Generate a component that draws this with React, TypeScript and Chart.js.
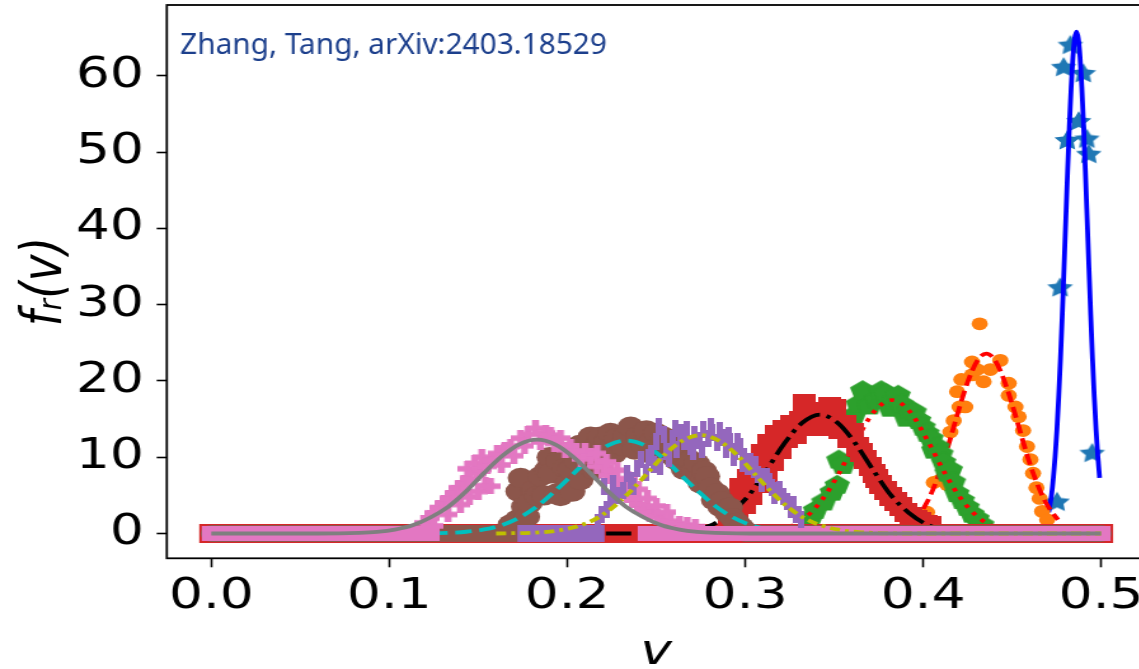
import React, { useEffect, useRef } from "react";
import { Chart, registerables } from "chart.js";

Chart.register(...registerables);

// ---------- data ----------
const X_TICKS = [0, 0.1, 0.2, 0.3, 0.4, 0.5];
const Y_TICKS = [0, 10, 20, 30, 40, 50, 60];
const NOTE = "Zhang, Tang, arXiv:2403.18529";

// blue stars [v, f]
const BLUE_PTS = [
  [0.4753, 4.2], [0.477, 32.3], [0.479, 61.2], [0.481, 51.6], [0.4828, 64.1],
  [0.4874, 54.1], [0.49, 60.4], [0.492, 51.8], [0.4931, 49.8], [0.495, 10.6],
];
const BLUE_FIT = [
  [0.4706, 2.8], [0.4722, 5.1], [0.4732, 7.3], [0.4742, 10.1], [0.4752, 13.6], [0.4762, 17.9],
  [0.4772, 22.9], [0.4782, 28.6], [0.4792, 34.8], [0.4802, 41.2], [0.4812, 47.5], [0.4822, 53.4],
  [0.4832, 58.5], [0.4842, 62.5], [0.4852, 64.9], [0.4862, 65.8], [0.4872, 64.9], [0.4882, 62.5],
  [0.4892, 58.5], [0.4902, 53.4], [0.4912, 47.5], [0.4922, 41.2], [0.4932, 34.8], [0.4942, 28.6],
  [0.4952, 22.9], [0.4962, 17.9], [0.4972, 13.6], [0.4982, 10.1], [0.4992, 7.3],
];

// orange circles
const ORANGE_PTS = [
  [0.4022, 2.8], [0.406, 6.7], [0.4097, 7.0], [0.4136, 6.4], [0.4153, 13.3], [0.4172, 14.8],
  [0.4191, 18.6], [0.4205, 16.6], [0.4215, 20.2], [0.4237, 16.6], [0.4275, 20.8], [0.4275, 22.5],
  [0.4303, 21.5], [0.4318, 27.5], [0.434, 19.9], [0.4378, 21.5], [0.4434, 22.7], [0.4481, 19.7],
  [0.4481, 18.1], [0.4519, 16.6], [0.4537, 15.3], [0.4562, 13.5], [0.4584, 11.4], [0.4603, 9.7],
  [0.4618, 7.9], [0.4637, 6.0], [0.4655, 4.6], [0.4669, 2.9], [0.4697, 1.8],
];
const ORANGE_FIT = [
  [0.4, 3.2], [0.4035, 4.7], [0.4075, 6.9], [0.4115, 9.5], [0.4155, 12.6], [0.4195, 15.8],
  [0.4235, 18.8], [0.4275, 21.3], [0.4315, 23.0], [0.4355, 23.6], [0.4395, 23.0], [0.4435, 21.3],
  [0.4475, 18.8], [0.4515, 15.8], [0.4555, 12.6], [0.4595, 9.5], [0.4635, 6.9], [0.4675, 4.7],
  [0.4715, 3.1], [0.4758, 1.8],
];

// green pentagons
const GREEN_PTS = [
  [0.3367, 2.0], [0.3395, 3.1], [0.3442, 4.2], [0.3489, 5.5], [0.3517, 6.4], [0.3526, 9.7],
  [0.355, 9.0], [0.361, 15.5], [0.3635, 17.0], [0.366, 18.8], [0.37, 16.8], [0.374, 17.6],
  [0.3765, 18.8], [0.379, 18.4], [0.3815, 16.5], [0.384, 17.5], [0.386, 18.2], [0.388, 17.0],
  [0.3905, 15.2], [0.3929, 16.2], [0.395, 16.0], [0.3975, 14.9], [0.4, 14.0], [0.4022, 13.2],
  [0.4045, 12.5], [0.406, 11.0], [0.4079, 11.4], [0.41, 10.5], [0.4115, 9.4], [0.4135, 8.0],
  [0.4153, 8.4], [0.417, 6.8], [0.419, 5.3], [0.422, 4.4], [0.4247, 3.5], [0.4275, 2.6],
  [0.4303, 2.0], [0.433, 1.2],
];
const GREEN_FIT = [
  [0, 0], [0.3, 0.0], [0.3225, 0.69], [0.3325, 1.86], [0.3425, 4.2], [0.3525, 7.8], [0.3625, 12.2],
  [0.3725, 16.0], [0.3825, 17.5], [0.3925, 16.0], [0.4025, 12.2], [0.4125, 7.8], [0.4225, 4.2],
  [0.4325, 1.86], [0.4425, 0.69], [0.47, 0], [0.5, 0],
];

// red squares
const RED_PTS = [
  [0.291, 1.5], [0.2935, 4.5], [0.2955, 2.5], [0.2975, 6.0], [0.2995, 3.8], [0.3015, 7.2],
  [0.3035, 5.0], [0.3055, 8.8], [0.3075, 6.5], [0.3095, 10.5], [0.3115, 8.0], [0.3135, 11.8],
  [0.3155, 9.5], [0.3175, 13.0], [0.3195, 11.0], [0.3215, 13.6], [0.3235, 12.5], [0.326, 14.3],
  [0.3285, 13.0], [0.331, 14.8], [0.333, 17.1], [0.335, 14.0], [0.3375, 15.2], [0.34, 14.5],
  [0.3425, 16.0], [0.345, 14.0], [0.3475, 16.6], [0.3505, 16.4], [0.353, 13.6], [0.356, 14.3],
  [0.3585, 12.5], [0.3605, 13.2], [0.363, 11.4], [0.3655, 10.6], [0.3676, 9.7], [0.37, 8.8],
  [0.3722, 7.9], [0.374, 7.2], [0.376, 6.4], [0.379, 5.6], [0.3816, 4.9], [0.3845, 4.2],
  [0.3872, 3.5], [0.39, 2.8], [0.3929, 2.2], [0.396, 1.8], [0.3985, 1.6], [0.4015, 1.2], [0.404, 1.0],
];
const RED_FIT = [
  [0, 0], [0.24, 0.0], [0.262, 0.17], [0.272, 0.49], [0.282, 1.2], [0.292, 2.7], [0.302, 5.0],
  [0.312, 8.3], [0.322, 11.8], [0.332, 14.5], [0.342, 15.6], [0.352, 14.5], [0.362, 11.8],
  [0.372, 8.3], [0.382, 5.0], [0.392, 2.7], [0.402, 1.2], [0.412, 0.49], [0.422, 0.17], [0.45, 0], [0.5, 0],
];
const RED_ZERO = [[0, 0.5]];

// purple bars
const PURPLE_PTS = [
  [0.217, 1.5], [0.2195, 2.5], [0.2206, 6.2], [0.2225, 3.1], [0.2243, 4.4], [0.226, 6.5], [0.228, 5.0],
  [0.2318, 5.7], [0.2337, 7.9], [0.2355, 7.0], [0.2374, 6.2], [0.239, 8.5], [0.2412, 9.7], [0.244, 8.0],
  [0.2455, 10.0], [0.247, 10.5], [0.2485, 9.0], [0.25, 12.0], [0.2515, 14.0], [0.2524, 8.8],
  [0.2545, 13.0], [0.256, 10.8], [0.2575, 9.8], [0.259, 12.5], [0.2605, 13.8], [0.2615, 11.0],
  [0.2637, 13.2], [0.266, 12.0], [0.2675, 13.6], [0.2693, 11.4], [0.2705, 10.8], [0.2715, 13.0],
  [0.274, 12.2], [0.2755, 11.0], [0.2767, 13.6], [0.279, 12.5], [0.2805, 14.0], [0.2815, 13.2],
  [0.2843, 11.9], [0.2855, 13.5], [0.287, 12.6], [0.2895, 11.0], [0.2905, 12.8], [0.2917, 12.1],
  [0.2935, 10.0], [0.2945, 10.8], [0.296, 12.0], [0.2973, 11.4], [0.2985, 9.2], [0.2992, 10.1],
  [0.3011, 8.8], [0.303, 9.5], [0.3048, 8.4], [0.3055, 9.0], [0.307, 7.8], [0.309, 6.6], [0.3105, 7.5],
  [0.3124, 7.5], [0.3135, 6.8], [0.3152, 6.0], [0.3165, 5.0], [0.318, 5.7], [0.3195, 5.8],
  [0.3217, 4.9], [0.3236, 4.2], [0.3255, 3.1], [0.327, 3.8], [0.3285, 2.5], [0.33, 2.5], [0.3311, 1.8],
];
const PURPLE_FIT = [
  [0.16, 0.0], [0.185, 0.16], [0.195, 0.4], [0.205, 0.9], [0.215, 1.8], [0.225, 3.3], [0.235, 5.4],
  [0.245, 7.9], [0.255, 10.4], [0.265, 12.2], [0.275, 12.9], [0.285, 12.2], [0.295, 10.4],
  [0.305, 7.9], [0.315, 5.4], [0.325, 3.3], [0.335, 1.8], [0.345, 0.9], [0.355, 0.4], [0.365, 0.16],
  [0.39, 0], [0.5, 0],
];
const PURPLE_ZERO = [[0.172, 0.221]];

// brown circles
const BROWN_PTS = [
  [0.1682, 1.2], [0.172, 1.8], [0.1725, 5.5], [0.1738, 7.3], [0.1756, 3.5], [0.1775, 2.2],
  [0.179, 4.0], [0.1812, 5.7], [0.1831, 4.9], [0.185, 7.5], [0.187, 5.0], [0.1888, 8.4],
  [0.19, 10.0], [0.1906, 7.9], [0.1944, 5.3], [0.195, 9.5], [0.1962, 4.9], [0.199, 8.6], [0.2, 6.5],
  [0.2018, 8.4], [0.203, 5.5], [0.205, 9.6], [0.207, 11.6], [0.2075, 7.0], [0.21, 10.8], [0.212, 9.5],
  [0.2131, 12.7], [0.215, 8.4], [0.2168, 11.4], [0.2175, 10.0], [0.2187, 12.7], [0.222, 12.0],
  [0.2243, 13.2], [0.2265, 10.5], [0.228, 12.5], [0.231, 11.5], [0.233, 12.8], [0.2356, 14.0],
  [0.238, 11.0], [0.24, 12.8], [0.243, 11.6], [0.2445, 13.5], [0.2468, 11.9], [0.249, 10.2],
  [0.25, 13.2], [0.2525, 11.5], [0.2541, 12.7], [0.2562, 10.5], [0.258, 12.0], [0.26, 11.2],
  [0.2615, 9.6], [0.2637, 11.0], [0.2655, 8.4], [0.267, 10.0], [0.269, 9.6], [0.2705, 8.0],
  [0.273, 9.2], [0.2749, 6.6], [0.277, 8.2], [0.2787, 7.5], [0.2805, 6.0], [0.2824, 4.4],
  [0.2843, 5.3], [0.286, 3.5], [0.287, 4.2], [0.2899, 2.7], [0.2915, 3.4], [0.293, 2.0],
  [0.2955, 1.4], [0.298, 0.8],
];
const BROWN_FIT = [
  [0.11, 0.0], [0.1333, 0.09], [0.1433, 0.23], [0.1533, 0.53], [0.1633, 1.1], [0.1733, 2.1],
  [0.1833, 3.6], [0.1933, 5.6], [0.2033, 7.8], [0.2133, 10.0], [0.2233, 11.6], [0.2333, 12.2],
  [0.2433, 11.6], [0.2533, 10.0], [0.2633, 7.8], [0.2733, 5.6], [0.2833, 3.6], [0.2933, 2.1],
  [0.3033, 1.1], [0.3133, 0.53], [0.3233, 0.23], [0.3333, 0.09], [0.36, 0], [0.5, 0],
];
const BROWN_ZERO = [[0, 0.172], [0.3, 0.5]];

// pink pluses
const PINK_PTS = [
  [0.1194, 1.4], [0.123, 2.0], [0.125, 1.0], [0.1251, 2.7], [0.128, 3.4], [0.1307, 4.0], [0.133, 2.5],
  [0.1335, 4.6], [0.1363, 5.3], [0.139, 6.0], [0.14, 3.8], [0.1419, 6.6], [0.144, 8.5], [0.145, 4.8],
  [0.145, 7.2], [0.148, 9.2], [0.1494, 7.9], [0.15, 5.5], [0.152, 10.0], [0.152, 8.4], [0.154, 6.3],
  [0.155, 8.8], [0.1569, 6.2], [0.158, 9.6], [0.1607, 10.5], [0.163, 9.0], [0.165, 11.0],
  [0.1682, 11.4], [0.17, 10.2], [0.1738, 12.5], [0.176, 11.5], [0.178, 13.0], [0.1822, 13.8],
  [0.185, 12.0], [0.188, 13.2], [0.1906, 12.9], [0.193, 11.8], [0.1962, 12.5], [0.199, 11.0],
  [0.2018, 11.4], [0.205, 10.8], [0.208, 9.8], [0.21, 10.8], [0.2131, 10.1], [0.2168, 8.8],
  [0.2168, 10.5], [0.2206, 8.8], [0.222, 9.4], [0.223, 7.6], [0.2262, 7.0], [0.228, 8.3], [0.229, 6.2],
  [0.2318, 5.7], [0.234, 7.2], [0.2345, 5.0], [0.2374, 4.4], [0.24, 5.8], [0.24, 3.8], [0.243, 3.1],
  [0.245, 4.6], [0.2465, 2.6], [0.25, 3.6], [0.2506, 2.2], [0.254, 1.8], [0.256, 2.8], [0.258, 1.6],
  [0.263, 1.3], [0.2674, 1.1], [0.272, 0.9],
];
const PINK_FIT = [
  [0, 0], [0.06, 0.0], [0.0831, 0.09], [0.0931, 0.22], [0.1031, 0.51], [0.1131, 1.07], [0.1231, 2.1],
  [0.1331, 3.5], [0.1431, 5.5], [0.1531, 7.9], [0.1631, 10.1], [0.1731, 11.7], [0.1831, 12.3],
  [0.1931, 11.7], [0.2031, 10.1], [0.2131, 7.9], [0.2231, 5.5], [0.2331, 3.5], [0.2431, 2.1],
  [0.2531, 1.07], [0.2631, 0.51], [0.2731, 0.22], [0.2831, 0.09], [0.31, 0.0], [0.5, 0],
];
const PINK_ZERO = [[0, 0.123], [0.245, 0.5]];

// ---------- look ----------
const S = 1.27; // horizontal stretch of the picture
const CW = 913;
const CH = 700;
const AREA_LEFT = 131.3;
const AREA_RIGHT = 901.6;
const AREA_TOP = 5;
const AREA_BOTTOM = 558.3;

const C = {
  blue: "#1f77b4", orange: "#ff7f0e", green: "#2ca02c", red: "#d62728",
  purple: "#9467bd", brown: "#8c564b", pink: "#e377c2", gray: "#7f7f7f",
};

const toXY = (a: number[][]) => a.map(([x, y]) => ({ x, y }));
const zeroBand = (ranges: number[][]) => {
  const out: any[] = [];
  ranges.forEach(([a, b], i) => {
    if (i > 0) out.push({ x: (ranges[i - 1][1] + a) / 2, y: null });
    out.push({ x: a, y: 0 }, { x: b, y: 0 });
  });
  return out;
};

function marker(w: number, h: number, color: string, draw: (g: CanvasRenderingContext2D) => void) {
  const c = document.createElement("canvas");
  c.width = w;
  c.height = h;
  const g = c.getContext("2d")!;
  g.fillStyle = color;
  g.beginPath();
  draw(g);
  g.closePath();
  g.fill();
  return c;
}
function polygon(g: CanvasRenderingContext2D, cx: number, cy: number, n: number, R: number, inner?: number) {
  const k = inner ? n * 2 : n;
  for (let i = 0; i < k; i++) {
    const ang = -Math.PI / 2 + (i * 2 * Math.PI) / k;
    const r = inner && i % 2 === 1 ? R * inner : R;
    const x = cx + r * Math.cos(ang);
    const y = cy + r * Math.sin(ang);
    if (i === 0) g.moveTo(x, y);
    else g.lineTo(x, y);
  }
}

export default function App() {
  const ref = useRef<HTMLCanvasElement | null>(null);

  useEffect(() => {
    const canvas = ref.current;
    if (!canvas) return;

    const star = marker(22, 22, C.blue, (g) => polygon(g, 11, 11.8, 5, 10.6, 0.5));
    const pent = marker(22, 22, C.green, (g) => polygon(g, 11, 11.5, 5, 10.5));
    const square = marker(18, 19, C.red, (g) => g.rect(0, 0, 18, 19));
    const bar = marker(5, 17, C.purple, (g) => g.rect(0, 0, 5, 17));
    const plus = marker(15, 16, C.pink, (g) => {
      g.rect(0, 5.2, 15, 5.6);
      g.rect(4.7, 0, 5.6, 16);
    });

    const pts = (data: number[][], style: any, color: string, radius = 8) => ({
      data: toXY(data),
      showLine: false,
      pointStyle: style,
      pointRadius: radius,
      pointHoverRadius: radius,
      pointBackgroundColor: color,
      pointBorderColor: color,
      pointBorderWidth: 0,
    });
    const line = (data: any[], color: string, width: number, dash: number[] = [], cap: any = "butt") => ({
      data,
      showLine: true,
      pointRadius: 0,
      pointHoverRadius: 0,
      borderColor: color,
      borderWidth: width,
      borderDash: dash,
      borderCapStyle: cap,
      cubicInterpolationMode: "monotone",
      spanGaps: false,
      fill: false,
    });

    const LW = 3.8;
    const layers: any[] = [
      pts(BLUE_PTS, star, C.blue),
      line(toXY(BLUE_FIT), "#0000ff", LW),
      pts(ORANGE_PTS, "circle", C.orange, 6.4),
      line(toXY(ORANGE_FIT), "#ff0000", LW, [11, 5]),
      pts(GREEN_PTS, pent, C.green),
      line(toXY(GREEN_FIT), "#ff0000", LW, [3.5, 6]),
      pts(RED_PTS, square, C.red),
      line(zeroBand(RED_ZERO), C.red, 19, [], "square"),
      line(toXY(RED_FIT), "#000000", LW, [20, 5.5, 3.5, 5.5]),
      pts(BROWN_PTS, "circle", C.brown, 10.2),
      line(zeroBand(BROWN_ZERO), C.brown, 17, [], "round"),
      line(toXY(BROWN_FIT), "#00bfbf", LW, [13, 6]),
      pts(PINK_PTS, plus, C.pink),
      line(zeroBand(PINK_ZERO), C.pink, 15, [], "square"),
      pts(PURPLE_PTS, bar, C.purple),
      line(zeroBand(PURPLE_ZERO), C.purple, 17),
      line(toXY(PURPLE_FIT), "#bfbf00", LW, [8, 4, 3, 4]),
      line(toXY(PINK_FIT), C.gray, LW),
    ];
    const n = layers.length;
    layers.forEach((d, i) => (d.order = n - i));

    const framePlugin = {
      id: "frame",
      afterDraw(chart: any) {
        const { ctx, chartArea: a } = chart;
        ctx.save();
        ctx.strokeStyle = "#000";
        ctx.lineWidth = 1.8;
        ctx.strokeRect(a.left, a.top, a.right - a.left, a.bottom - a.top);
        ctx.scale(1 / S, 1);
        ctx.font = '29.8px "Noto Sans"';
        ctx.fillStyle = "#1c3f8c";
        ctx.textBaseline = "alphabetic";
        ctx.textAlign = "left";
        ctx.fillText(NOTE, 180, 53.5);
        ctx.restore();
      },
    };

    const tickFont = { family: "DejaVu Sans", size: 42 };

    const chart = new Chart(canvas, {
      type: "scatter",
      data: { datasets: layers },
      options: {
        animation: false,
        responsive: false,
        events: [],
        layout: {
          autoPadding: false,
          padding: { left: 0, right: CW - AREA_RIGHT, top: AREA_TOP, bottom: 0 },
        },
        plugins: { legend: { display: false }, tooltip: { enabled: false } },
        scales: {
          x: {
            type: "linear",
            min: -0.025,
            max: 0.525,
            afterBuildTicks: (s: any) => {
              s.ticks = X_TICKS.map((v) => ({ value: v }));
            },
            afterFit: (s: any) => {
              s.height = CH - AREA_BOTTOM;
              s.paddingLeft = 0;
              s.paddingRight = 0;
            },
            ticks: {
              callback: (v: any) => Number(v).toFixed(1),
              font: tickFont,
              color: "#000",
              padding: 5,
              maxRotation: 0,
              autoSkip: false,
            },
            grid: { drawOnChartArea: false, drawTicks: true, tickLength: 9, tickColor: "#000", tickWidth: 1.6 },
            border: { display: false },
            title: {
              display: true, text: "v", color: "#000", padding: { top: 0, bottom: 22 },
              font: { family: "DejaVu Sans", size: 42, style: "italic" },
            },
          },
          y: {
            type: "linear",
            min: -3.25,
            max: 69.3,
            afterBuildTicks: (s: any) => {
              s.ticks = Y_TICKS.map((v) => ({ value: v }));
            },
            afterFit: (s: any) => {
              s.width = AREA_LEFT;
              s.paddingTop = 0;
              s.paddingBottom = 0;
            },
            ticks: {
              callback: (v: any) => String(v),
              font: tickFont,
              color: "#000",
              padding: 10,
              autoSkip: false,
            },
            grid: { drawOnChartArea: false, drawTicks: true, tickLength: 8, tickColor: "#000", tickWidth: 1.6 },
            border: { display: false },
            title: {
              display: true, text: "fᵣ(v)", color: "#000", padding: { top: 9, bottom: 0 },
              font: { family: "DejaVu Sans", size: 45, style: "italic" },
            },
          },
        },
      },
      plugins: [framePlugin],
    } as any);

    return () => chart.destroy();
  }, []);

  return (
    <div
      style={{
        position: "fixed",
        left: 0,
        top: 0,
        width: 1139,
        height: 669,
        overflow: "hidden",
        background: "#fff",
      }}
    >
      <canvas
        ref={ref}
        width={CW}
        height={CH}
        style={{ width: `${CW * S}px`, height: `${CH}px`, display: "block" }}
      />
    </div>
  );
}
